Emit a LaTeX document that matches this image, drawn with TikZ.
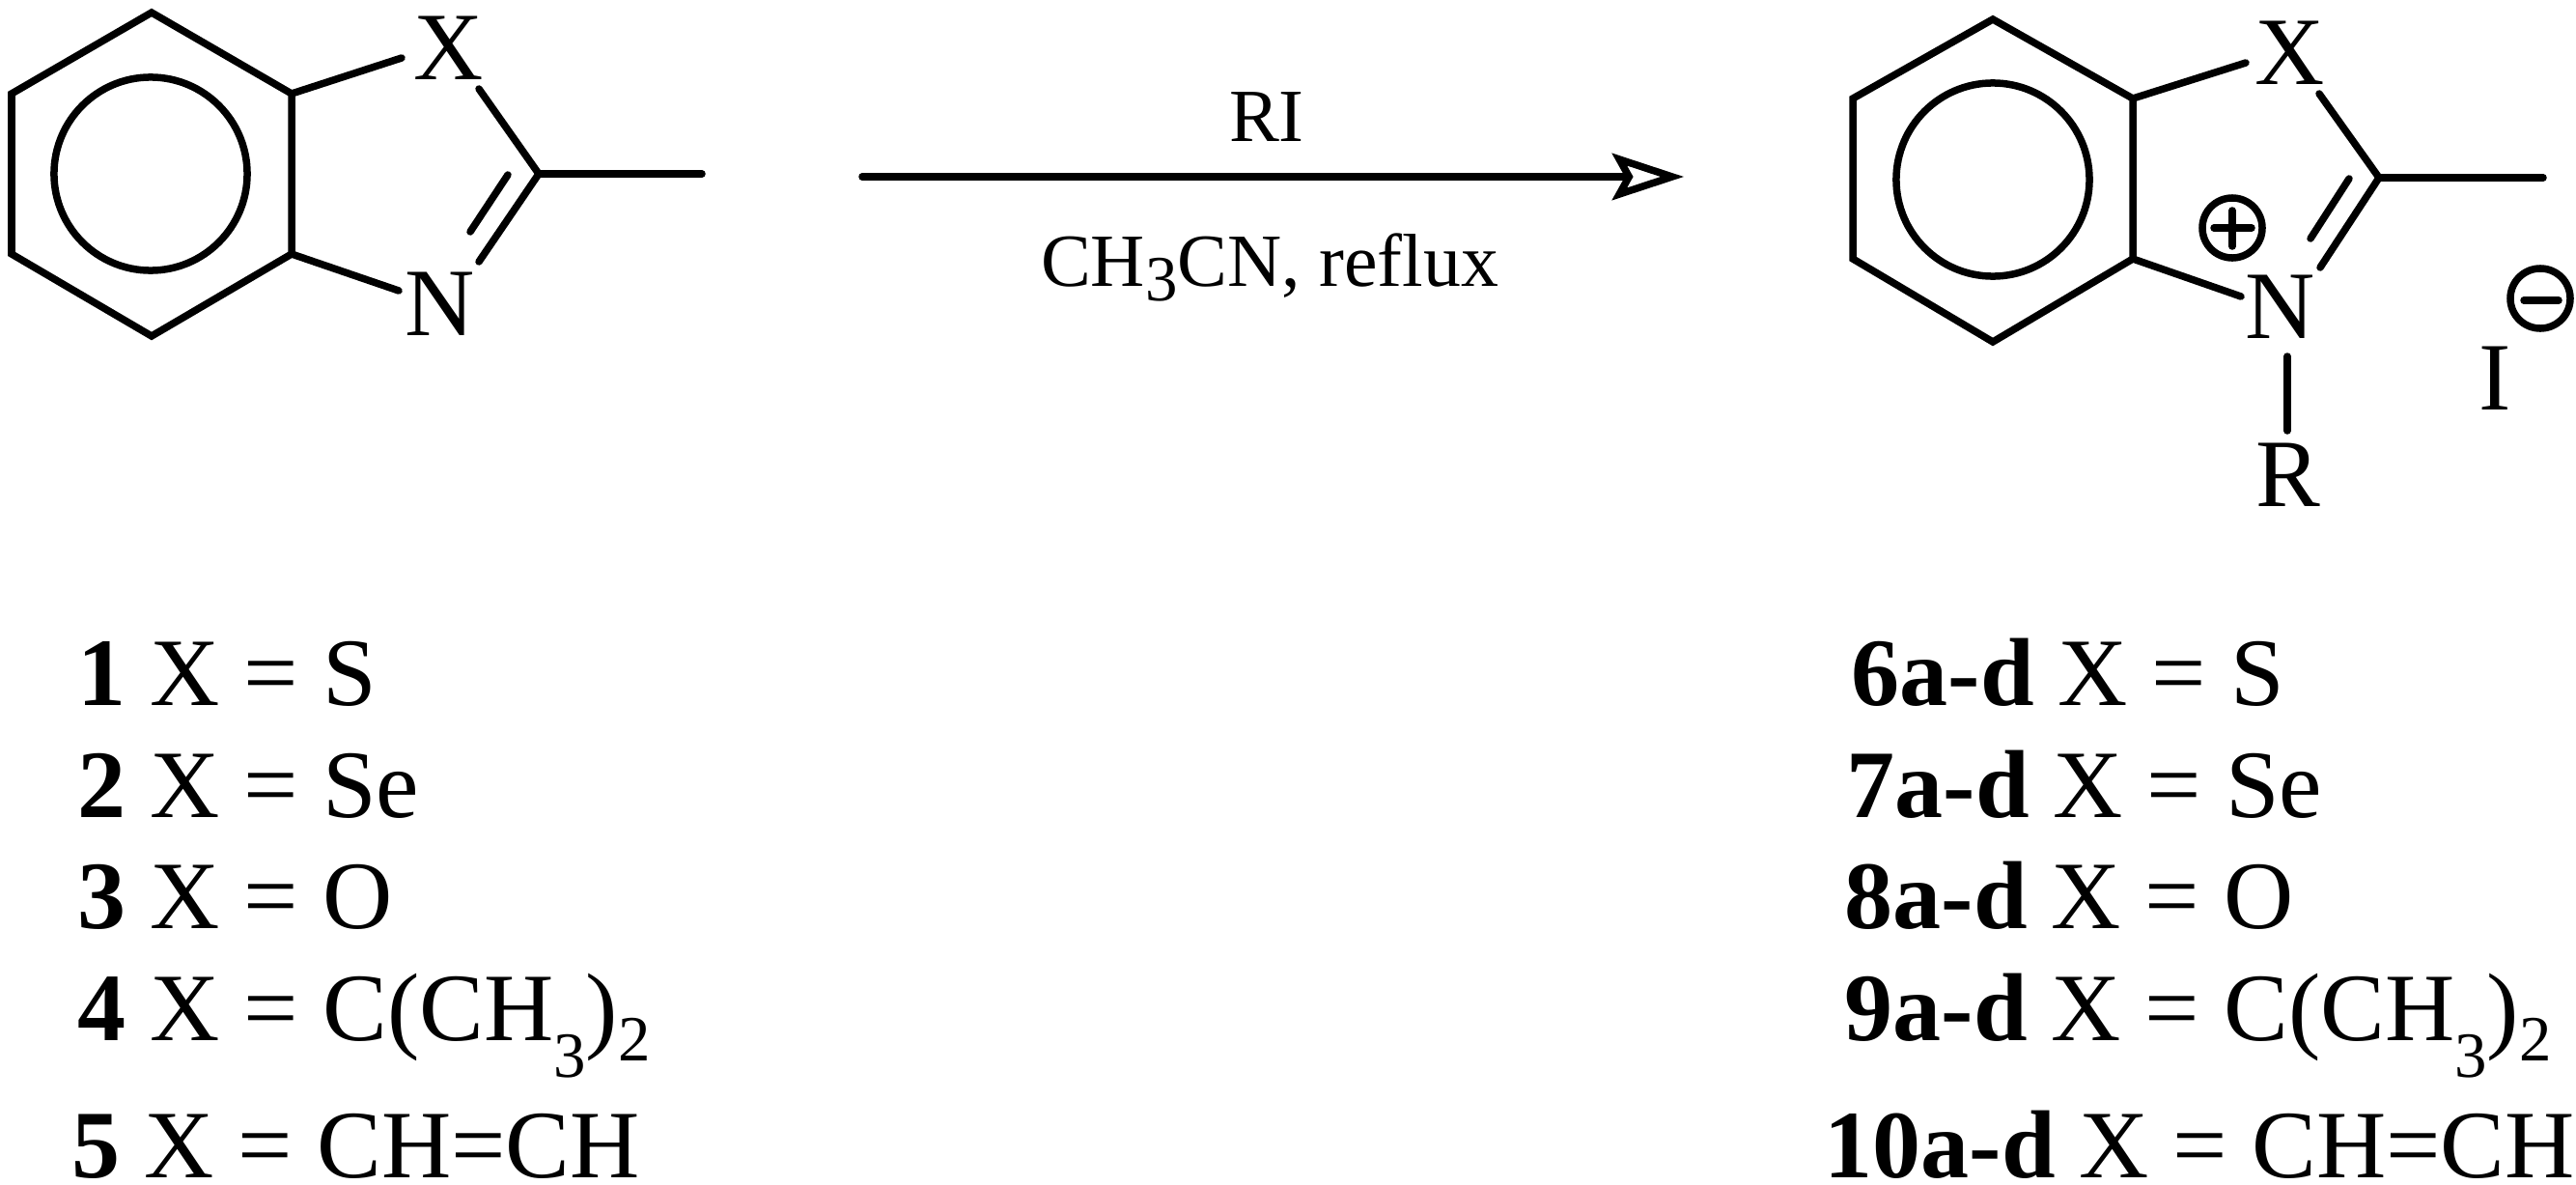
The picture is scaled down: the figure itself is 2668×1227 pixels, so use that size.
\documentclass[tikz,border=0pt]{standalone}
\usepackage{fontspec}
\setmainfont{Liberation Serif}
\usetikzlibrary{arrows.meta}
\newcommand{\sbnum}[2]{\raisebox{-#1em}{\fontsize{19}{19}\selectfont #2}}
\tikzset{
	bond/.style={line width=0.075cm, line cap=round},
	atom/.style={inner sep=0pt, font=\fontsize{28.45}{34}\selectfont},
	reagent/.style={inner sep=0pt, font=\fontsize{22.1}{28}\selectfont},
	listrow/.style={inner sep=0pt, anchor=base west, font=\fontsize{28.45}{34}\selectfont},
}
\begin{document}
\begin{tikzpicture}[x=0.01cm, y=-0.01cm]
		\useasboundingbox (0, 0) rectangle (2668, 1227);
		% left molecule
		\coordinate (A1) at (157, 13);
		\coordinate (A2) at (302, 97);
		\coordinate (A3) at (302, 263);
		\coordinate (A4) at (157, 348);
		\coordinate (A5) at (12, 263);
		\coordinate (A6) at (12, 97);
		\coordinate (A7) at (416, 60);
		\coordinate (A8) at (496, 92);
		\coordinate (A9) at (558, 180);
		\coordinate (A10) at (727, 180);
		\coordinate (A11) at (496, 271);
		\coordinate (A12) at (526, 181);
		\coordinate (A13) at (487, 240);
		\coordinate (A14) at (413, 301);
		\coordinate (Acenter) at (156, 180);
		
		\draw [bond, line join=miter] (A1) -- (A2) -- (A3) -- (A4) -- (A5) -- (A6) -- cycle;
		\draw [bond] (Acenter) circle [radius=1cm];
		\draw [bond] (A2) -- (A7);
		\draw [bond] (A8) -- (A9);
		\draw [bond] (A9) -- (A10);
		\draw [bond] (A9) -- (A11);
		\draw [bond] (A12) -- (A13);
		\draw [bond] (A3) -- (A14);
		\node [atom] (Xleft) at (465, 50) {X};
		\node [atom] (Nleft) at (456, 315) {N};
		
		% arrow
		\coordinate (B1) at (893, 183);
		\coordinate (B2) at (1744, 183);
		\draw [bond, -{Stealth[open, length=0.74cm, width=0.48cm, inset=0.13cm]}] (B1) -- (B2);
		\node [reagent] (RI) at (1312, 121) {RI};
		\node [reagent] (solvent) at (1315, 277) {CH\sbnum{.19}{3}CN, reflux};
		
		% right molecule
		\coordinate (C1) at (2064, 20);
		\coordinate (C2) at (2209, 102);
		\coordinate (C3) at (2209, 268);
		\coordinate (C4) at (2064, 354);
		\coordinate (C5) at (1919, 268);
		\coordinate (C6) at (1919, 102);
		\coordinate (C7) at (2326, 65);
		\coordinate (C8) at (2402, 97);
		\coordinate (C9) at (2464, 184);
		\coordinate (C10) at (2634, 184);
		\coordinate (C11) at (2403, 277);
		\coordinate (C12) at (2433, 185);
		\coordinate (C13) at (2393, 247);
		\coordinate (C14) at (2321, 307);
		\coordinate (C15) at (2369, 369);
		\coordinate (C16) at (2369, 446);
		\coordinate (Ccenter) at (2064, 186);
		
		\draw [bond, line join=miter] (C1) -- (C2) -- (C3) -- (C4) -- (C5) -- (C6) -- cycle;
		\draw [bond] (Ccenter) circle [radius=1cm];
		\draw [bond] (C2) -- (C7);
		\draw [bond] (C8) -- (C9);
		\draw [bond] (C9) -- (C10);
		\draw [bond] (C9) -- (C11);
		\draw [bond] (C12) -- (C13);
		\draw [bond] (C3) -- (C14);
		\draw [bond] (C15) -- (C16);
		\node [atom] (Xright) at (2372, 55) {X};
		\node [atom] (Nright) at (2362, 318) {N};
		\node [atom] (Rright) at (2370, 492) {R};
		\node [atom] (Iright) at (2584, 392) {I};
		
		% charges
		\coordinate (P1) at (2312, 236);
		\coordinate (P2) at (2293, 236);
		\coordinate (P3) at (2332, 236);
		\coordinate (P4) at (2312, 218);
		\coordinate (P5) at (2312, 255);
		\coordinate (M1) at (2631, 309);
		\coordinate (M2) at (2614, 311);
		\coordinate (M3) at (2650, 311);
		\draw [bond] (P1) circle [radius=0.31cm];
		\draw [bond] (P2) -- (P3);
		\draw [bond] (P4) -- (P5);
		\draw [bond] (M1) circle [radius=0.31cm];
		\draw [bond] (M2) -- (M3);
		
		% compounds, left column
		\node [listrow] (row1) at (80, 730) {\textbf{1} X = S};
		\node [listrow] (row2) at (80, 846) {\textbf{2} X = Se};
		\node [listrow] (row3) at (80, 961) {\textbf{3} X = O};
		\node [listrow] (row4) at (80, 1077) {\textbf{4} X = C(CH\sbnum{.38}{3})\sbnum{.21}{2}};
		\node [listrow] (row5) at (74, 1219) {\textbf{5} X = CH=CH};
		
		% compounds, right column
		\node [listrow] (row6) at (1917, 730) {\textbf{6a-d} X = S};
		\node [listrow] (row7) at (1912, 846) {\textbf{7a-d} X = Se};
		\node [listrow] (row8) at (1910, 961) {\textbf{8a-d} X = O};
		\node [listrow] (row9) at (1910, 1077) {\textbf{9a-d} X = C(CH\sbnum{.38}{3})\sbnum{.21}{2}};
		\node [listrow] (row10) at (1889, 1219) {\textbf{10a-d} X = CH=CH};
\end{tikzpicture}
\end{document}
